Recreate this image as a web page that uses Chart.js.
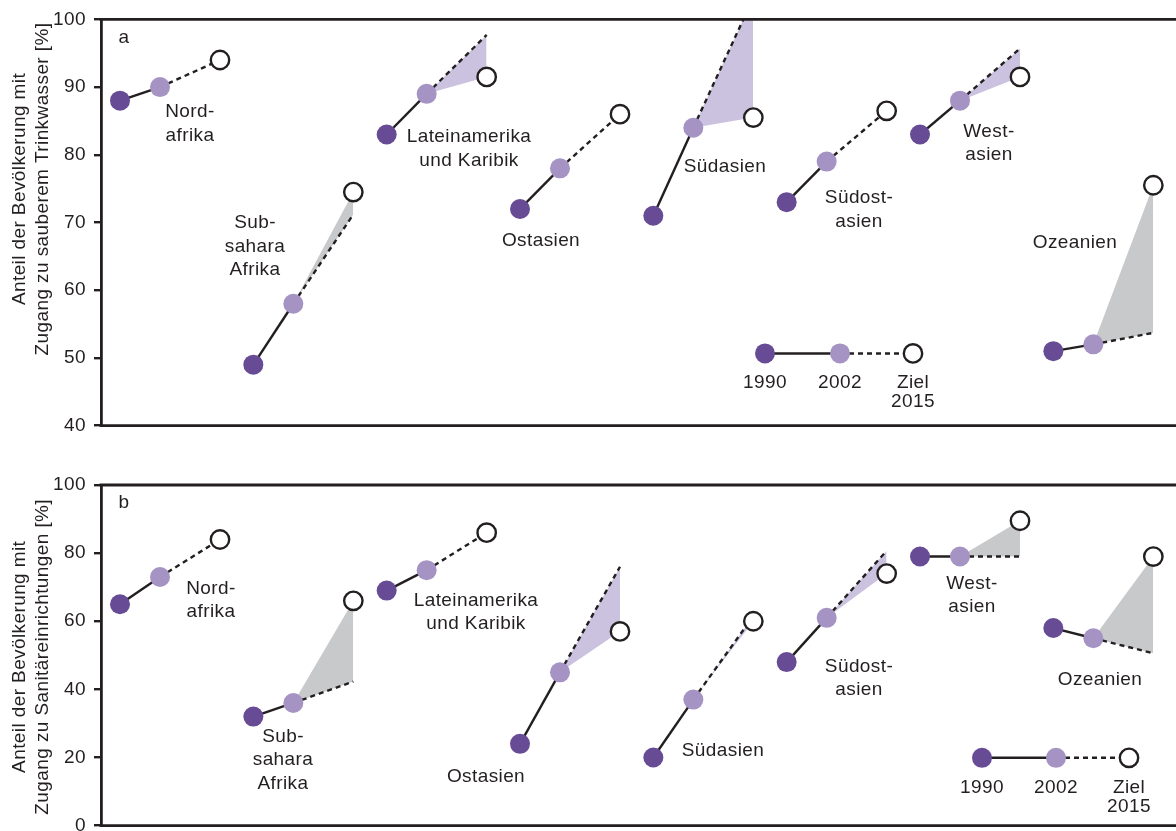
<!DOCTYPE html>
<html>
<head>
<meta charset="utf-8">
<script src="https://cdn.jsdelivr.net/npm/chart.js@4.4.1/dist/chart.umd.min.js"></script>
<style>
  html, body { margin: 0; padding: 0; background: #fff; overflow: hidden; }
  .panel { position: absolute; left: 0; width: 1176px; }
</style>
</head>
<body>
<div class="panel" style="top:0;height:445px"><canvas id="chartA"></canvas></div>
<div class="panel" style="top:445px;height:400px"><canvas id="chartB"></canvas></div>
<script>
// regions (same order in both panels)
const regions = ['Nord-\nafrika', 'Sub-\nsahara\nAfrika', 'Lateinamerika\nund Karibik', 'Ostasien',
  'Südasien', 'Südost-\nasien', 'West-\nasien', 'Ozeanien'];

// a: sauberes Trinkwasser [%]
const water1990 = [88, 49, 83, 72, 71, 73, 83, 51];
const water2002 = [90, 58, 89, 78, 84, 79, 88, 52];
const waterGoal = [94, 74.5, 91.5, 86, 85.5, 86.5, 91.5, 75.5];
const waterTrend = [94, 71.2, 97.7, 86, 103.2, 86.5, 95.7, 53.7];
const waterTicks = [40, 50, 60, 70, 80, 90, 100];

// b: Sanitäreinrichtungen [%]
const sanit1990 = [65, 32, 69, 24, 20, 48, 79, 58];
const sanit2002 = [73, 36, 75, 45, 37, 61, 79, 55];
const sanitGoal = [84, 66, 86, 57, 60, 74, 89.5, 79];
const sanitTrend = [84, 42.3, 86, 76, 61.5, 80.7, 79, 50.6];
const sanitTicks = [0, 20, 40, 60, 80, 100];

const legendLabels = ['1990', '2002', 'Ziel\n2015'];

const INK = '#231f20';
const DARK = '#674b94';
const LIGHT = '#a593c4';
const LAVENDER = '#cbc2e0';
const GRAY = '#c8c9cb';
const FONT = '"Liberation Sans", Arial, Helvetica, sans-serif';
const FSIZE = 19;

// x layout: each region gets 4 units, years at fixed offsets
const STEP = 4, OFF1990 = 0, OFF2002 = 1.2, OFFGOAL = 3;

function buildDatasets(v1990, v2002, goal, trend) {
  const ds = [];
  regions.forEach((r, i) => {
    const x0 = i * STEP + OFF1990, x1 = i * STEP + OFF2002, x2 = i * STEP + OFFGOAL;
    const trendIdx = ds.length;
    // extrapolated trend (dashed)
    ds.push({
      data: [{ x: x1, y: v2002[i] }, { x: x2, y: trend[i] }],
      borderColor: INK, borderWidth: 2.4, borderDash: [5, 4],
      pointRadius: 0, fill: false, order: 2
    });
    // edge to the goal, shaded against the trend
    ds.push({
      data: [{ x: x1, y: v2002[i] }, { x: x2, y: goal[i] }],
      borderColor: 'rgba(0,0,0,0)', borderWidth: 0, pointRadius: 0,
      fill: { target: trendIdx, above: GRAY, below: LAVENDER }, order: 3
    });
    // 1990 -> 2002
    ds.push({
      data: [{ x: x0, y: v1990[i] }, { x: x1, y: v2002[i] }],
      borderColor: INK, borderWidth: 2.4, pointRadius: 0, fill: false, order: 2
    });
  });
  ds.push({
    data: v1990.map((v, i) => ({ x: i * STEP + OFF1990, y: v })),
    showLine: false, pointRadius: 10, pointBorderWidth: 0,
    pointBackgroundColor: DARK, fill: false, order: 1
  });
  ds.push({
    data: v2002.map((v, i) => ({ x: i * STEP + OFF2002, y: v })),
    showLine: false, pointRadius: 10, pointBorderWidth: 0,
    pointBackgroundColor: LIGHT, fill: false, order: 1
  });
  ds.push({
    data: goal.map((v, i) => ({ x: i * STEP + OFFGOAL, y: v })),
    showLine: false, pointRadius: 9.2, pointBorderWidth: 2.4,
    pointBorderColor: INK, pointBackgroundColor: '#fff', fill: false, order: 0
  });
  return ds;
}

const annot = {
  id: 'annot',
  beforeDraw(chart) {
    chart.ctx.letterSpacing = '0.4px';
  },
  afterDraw(chart, args, opts) {
    const { ctx, chartArea: a, scales: { x, y } } = chart;
    ctx.save();
    // top and bottom frame
    ctx.strokeStyle = INK;
    ctx.lineWidth = 2.8;
    ctx.beginPath();
    ctx.moveTo(a.left - 1.4, a.top); ctx.lineTo(chart.width, a.top);
    ctx.moveTo(a.left - 1.4, a.bottom); ctx.lineTo(chart.width, a.bottom);
    ctx.stroke();

    ctx.fillStyle = INK;
    ctx.font = FSIZE + 'px ' + FONT;
    ctx.textAlign = 'center';
    ctx.textBaseline = 'middle';

    // region names
    regions.forEach((name, i) => {
      const [dx, v] = opts.labelPos[i];
      const px = x.getPixelForValue(i * STEP + dx), py = y.getPixelForValue(v);
      name.split('\n').forEach((line, k) => ctx.fillText(line, px, py + k * 23.3));
    });

    // panel letter
    ctx.fillText(opts.letter, a.left + 23, a.top + 18);

    // legend key
    const ly = y.getPixelForValue(opts.legend.value);
    const lx = opts.legend.x.map(v => x.getPixelForValue(v));
    ctx.lineWidth = 2.4;
    ctx.beginPath(); ctx.moveTo(lx[0], ly); ctx.lineTo(lx[1], ly); ctx.stroke();
    ctx.setLineDash([5, 4]);
    ctx.beginPath(); ctx.moveTo(lx[1], ly); ctx.lineTo(lx[2], ly); ctx.stroke();
    ctx.setLineDash([]);
    [[DARK, 10], [LIGHT, 10]].forEach(([c, r], k) => {
      ctx.fillStyle = c;
      ctx.beginPath(); ctx.arc(lx[k], ly, r, 0, Math.PI * 2); ctx.fill();
    });
    ctx.fillStyle = '#fff';
    ctx.beginPath(); ctx.arc(lx[2], ly, 9.2, 0, Math.PI * 2); ctx.fill(); ctx.stroke();
    ctx.fillStyle = INK;
    legendLabels.forEach((t, k) => {
      t.split('\n').forEach((line, j) => ctx.fillText(line, lx[k], ly + 29.5 + j * 19));
    });

    // y axis title
    ctx.translate(0, (a.top + a.bottom) / 2 + opts.titleShift);
    ctx.rotate(-Math.PI / 2);
    opts.title.forEach((t, k) => ctx.fillText(t, 0, 20 + k * 23));
    ctx.restore();
  }
};

function makeChart(id, datasets, yMin, yMax, ticks, padding, plugOpts) {
  return new Chart(document.getElementById(id), {
    type: 'line',
    data: { datasets },
    plugins: [annot],
    options: {
      responsive: true,
      maintainAspectRatio: false,
      animation: false,
      events: [],
      layout: { autoPadding: false, padding: { top: padding[0], bottom: padding[1], left: 0, right: 0 } },
      plugins: {
        legend: { display: false },
        tooltip: { enabled: false },
        colors: { enabled: false },
        annot: plugOpts
      },
      scales: {
        x: { type: 'linear', min: -0.57, max: 31.68, display: false },
        y: {
          min: yMin, max: yMax,
          afterBuildTicks: (s) => { s.ticks = ticks.map(v => ({ value: v })); },
          afterFit: (s) => { s.width = 101; },
          border: { display: true, color: INK, width: 2.8 },
          grid: { drawOnChartArea: false, drawTicks: true, tickLength: 7, color: INK, lineWidth: 2.4 },
          ticks: { color: INK, padding: 8, font: { family: FONT, size: FSIZE } }
        }
      }
    }
  });
}

makeChart('chartA', buildDatasets(water1990, water2002, waterGoal, waterTrend), 40, 100, waterTicks, [16, 18], {
  letter: 'a',
  titleShift: -33.5,
  title: ['Anteil der Bevölkerung mit', 'Zugang zu sauberem Trinkwasser [%]'],
  labelPos: [[2.1, 86.3], [0.05, 69.9], [2.47, 82.6], [0.63, 67.3], [2.15, 78.2], [2.17, 73.6], [2.07, 83.4], [0.65, 67.0]],
  legend: { x: [19.35, 21.6, 23.79], value: 50.66 }
});

makeChart('chartB', buildDatasets(sanit1990, sanit2002, sanitGoal, sanitTrend), 0, 100, sanitTicks, [40, 19], {
  letter: 'b',
  titleShift: 1.5,
  title: ['Anteil der Bevölkerung mit', 'Zugang zu Sanitäreinrichtungen [%]'],
  labelPos: [[2.73, 69.5], [0.89, 26.1], [2.68, 66.0], [-1.02, 14.4], [2.09, 22.0], [2.17, 46.6], [1.56, 71.0], [1.4, 42.8]],
  legend: { x: [25.86, 28.08, 30.27], value: 19.9 }
});
</script>
</body>
</html>
